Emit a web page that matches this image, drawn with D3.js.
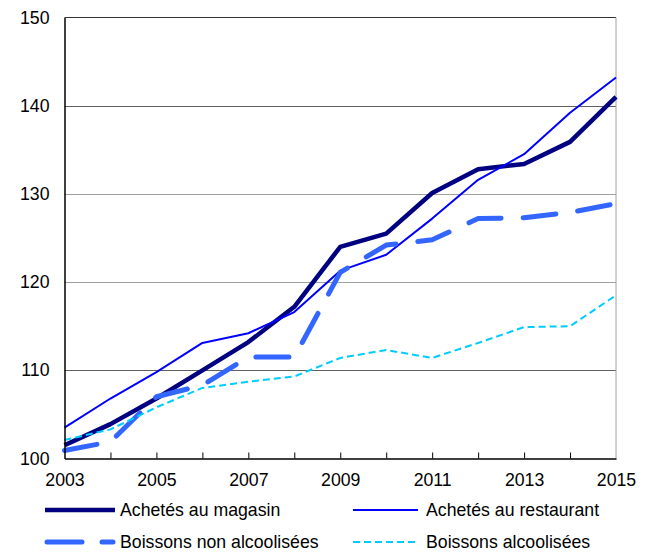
<!DOCTYPE html>
<html><head><meta charset="utf-8">
<script src="https://cdn.jsdelivr.net/npm/d3@7"></script>
<style>body{margin:0;background:#fff}svg{display:block}text{font-family:"Liberation Sans",Arial,sans-serif;fill:#000}</style>
</head><body><svg id="c" width="648" height="554"></svg>
<script>
const years = [2003,2004,2005,2006,2007,2008,2009,2010,2011,2012,2013,2014,2015];
const magasin = [101.5,103.9,106.8,110.0,113.2,117.2,124.0,125.5,130.1,132.8,133.4,135.9,141.0];
const restaurant = [103.5,106.8,109.8,113.1,114.2,116.6,121.3,123.1,127.2,131.6,134.5,139.2,143.2];
const nonAlcool = [100.9,101.9,107.0,108.3,111.5,111.5,121.1,124.2,124.8,127.2,127.3,127.9,128.9];
const alcool = [102.1,103.3,105.8,108.0,108.7,109.3,111.4,112.3,111.4,113.1,114.9,115.0,118.5];
const yTicks = [100,110,120,130,140,150];
const xTicks = [2003,2005,2007,2009,2011,2013,2015];
const seriesNames = ["Achetés au magasin","Achetés au restaurant","Boissons non alcoolisées","Boissons alcoolisées"];

const series = [
  {name:seriesNames[0], values:magasin, color:"#000080", width:4.5, dash:null, cap:"butt"},
  {name:seriesNames[1], values:restaurant, color:"#0000FF", width:2, dash:null, cap:"butt"},
  {name:seriesNames[2], values:nonAlcool, color:"#3366FF", width:5, dash:"33,22", cap:"round"},
  {name:seriesNames[3], values:alcool, color:"#00CCFF", width:2, dash:"7,4", cap:"butt"}
];

const FS = 17.7;
const svg = d3.select("#c");
const L=64.5, R=616, T=17.5, B=458.5;
const x = d3.scaleLinear().domain([2003,2015]).range([L,R]);
const y = d3.scaleLinear().domain([100,150]).range([B,T]);

// gridlines
svg.append("g").selectAll("line").data(yTicks.filter(v=>v>100&&v<150)).join("line")
  .attr("x1",L).attr("x2",R).attr("y1",d=>Math.round(y(d))+0.5).attr("y2",d=>Math.round(y(d))+0.5)
  .attr("stroke",(d)=> (d===140||d===110)?"#606060":"#a0a0a0").attr("stroke-width",1);
// frame
svg.append("line").attr("x1",L).attr("x2",R).attr("y1",T).attr("y2",T).attr("stroke","#333").attr("stroke-width",1);
svg.append("line").attr("x1",R).attr("x2",R).attr("y1",T).attr("y2",B).attr("stroke","#a0a0a0").attr("stroke-width",1);

// lines
const line = d3.line().x((d,i)=>x(years[i])).y(d=>y(d));
series.forEach(s=>{
  svg.append("path").datum(s.values).attr("d",line)
    .attr("fill","none").attr("stroke",s.color).attr("stroke-width",s.width)
    .attr("stroke-linejoin","round").attr("stroke-linecap",s.cap)
    .attr("stroke-dasharray",s.dash);
});

// axes
const xAxis = d3.axisBottom(x).tickValues(years).tickSizeInner(-6).tickSizeOuter(0).tickFormat(d=>xTicks.includes(d)?d:"");
const gx = svg.append("g").attr("transform",`translate(0,${B})`).call(xAxis);
gx.select(".domain").attr("stroke","#000").attr("stroke-width",1.5);
gx.selectAll(".tick line").attr("stroke","#000");
gx.selectAll("text").attr("y",15).attr("font-size",FS).attr("font-family","Liberation Sans, Arial, sans-serif");
gx.selectAll(".tick").filter(d=>d===2003||d===2015).select("line").remove();

const yAxis = d3.axisLeft(y).tickValues(yTicks).tickSize(0).tickPadding(15).tickFormat(d3.format("d"));
const gy = svg.append("g").attr("transform",`translate(${L},0)`).call(yAxis);
gy.select(".domain").attr("stroke","#000").attr("stroke-width",1.5);
gy.selectAll("text").attr("font-size",FS).attr("font-family","Liberation Sans, Arial, sans-serif");

// legend
const leg = [
  {s:series[0], x1:45, x2:115, tx:120, ty:510},
  {s:series[1], x1:353, x2:418, tx:426, ty:510},
  {s:series[2], x1:47, x2:113, tx:120, ty:542},
  {s:series[3], x1:353, x2:418, tx:426, ty:542}
];
leg.forEach(l=>{
  svg.append("line").attr("x1",l.x1).attr("x2",l.x2).attr("y1",l.ty).attr("y2",l.ty)
    .attr("stroke",l.s.color).attr("stroke-width",l.s.width).attr("stroke-linecap",l.s.cap)
    .attr("stroke-dasharray", l.s===series[2] ? "35,20" : (l.s.dash||null));
  svg.append("text").attr("x",l.tx).attr("y",l.ty).attr("dy","0.35em").attr("font-size",FS).text(l.s.name);
});
</script></body></html>
